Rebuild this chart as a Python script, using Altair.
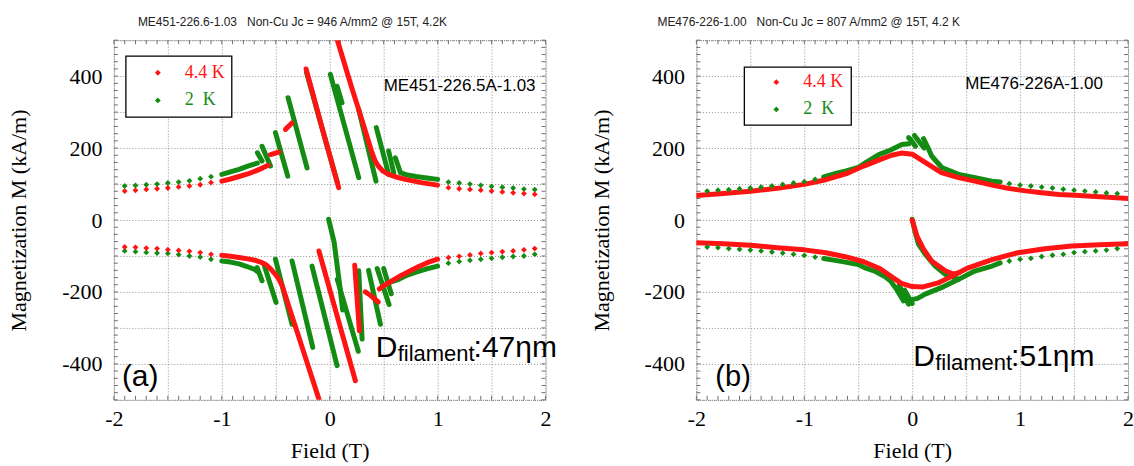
import altair as alt
import numpy as np
import pandas as pd

RED = "#ff1414"
GREEN = "#148c14"
SERIF = "Liberation Serif"
SANS = "Liberation Sans"
W, H = 432, 360

# ---------------- panel (a): ME451-226.5A-1.03, D = 47 nm ----------------
a_dot_B_left = [-1.9, -1.8, -1.7, -1.6, -1.5, -1.4, -1.3, -1.2, -1.1]
a_dot_B_right = [1.1, 1.2, 1.3, 1.4, 1.5, 1.6, 1.7, 1.8, 1.9]
a_red_up_left_M = [80.5, 82.5, 85, 87, 89, 92, 94.5, 98, 104]
a_green_up_left_M = [94.5, 96, 98, 100, 103, 105.5, 109, 115, 120.5]
a_red_up_right_M = [90, 87, 85, 83, 80.5, 78, 75.5, 73.5, 71.5]
a_green_up_right_M = [105.5, 103, 100, 96.5, 93.5, 91, 89, 86, 84.5]
a_red_lo_left_M = [-75, -76, -78, -79.5, -82.5, -84.5, -87, -90.5, -95.5]
a_green_lo_left_M = [-86, -88, -90, -92, -93, -96, -100, -103, -109]
a_red_lo_right_M = [-104.5, -101, -97, -93, -90.5, -88, -86, -83, -79.5]
a_green_lo_right_M = [-120, -115.5, -112, -109, -106.5, -103.5, -101.5, -100, -95.5]

# dense sweeps (field T, magnetization kA/m), one list per unbroken run
a_red_runs = [
    [(1.0, 97), (0.85, 104), (0.70, 113), (0.60, 121), (0.546, 127), (0.49, 137),
     (0.45, 150), (0.42, 165), (0.392, 187), (0.30, 277), (0.20, 372), (0.083, 488), (0.071, 500)],
    [(0.083, 90), (-0.07, 255), (-0.219, 420)],
    [(-0.35, 270), (-0.41, 252)],
    [(-0.472, 189), (-0.549, 182)],
    [(-0.57, 152), (-0.62, 145), (-0.69, 136), (-0.76, 128), (-0.84, 121), (-0.92, 114), (-1.0, 108)],
    [(-1.0, -98), (-0.92, -101), (-0.84, -104), (-0.76, -108), (-0.69, -112), (-0.64, -117),
     (-0.595, -123), (-0.55, -135), (-0.503, -151), (-0.47, -165), (-0.44, -183), (-0.38, -239),
     (-0.30, -313), (-0.20, -405), (-0.10, -498), (-0.098, -500)],
    [(-0.10, -86), (0.07, -268), (0.238, -447)],
    [(0.232, -126), (0.275, -308)],
    [(0.33, -200), (0.38, -210), (0.45, -228)],
    [(0.46, -192), (0.50, -183), (0.56, -172), (0.64, -158), (0.73, -144), (0.82, -130),
     (0.91, -118), (1.0, -109)],
]
a_green_runs = [
    [(1.0, 113), (0.9, 117), (0.8, 121), (0.72, 125), (0.66, 131)],
    [(0.655, 132), (0.608, 173)],
    [(0.593, 132), (0.546, 192)],
    [(0.546, 127), (0.432, 257)],
    [(0.429, 108), (0.269, 307)],
    [(0.269, 118), (0.006, 405)],
    [(0.114, 326), (0.068, 372)],
    [(0.07, 105), (-0.215, 410)],
    [(-0.21, 145), (-0.386, 340)],
    [(-0.389, 122), (-0.503, 243)],
    [(-0.549, 150), (-0.627, 205)],
    [(-0.627, 164), (-0.67, 187)],
    [(-0.67, 158), (-0.76, 150), (-0.84, 141), (-0.92, 134), (-1.0, 127)],
    [(-1.0, -114), (-0.92, -117), (-0.84, -122), (-0.76, -130), (-0.70, -137), (-0.66, -145)],
    [(-0.673, -132), (-0.627, -169)],
    [(-0.605, -128), (-0.497, -229)],
    [(-0.503, -109), (-0.349, -290)],
    [(-0.349, -114), (-0.157, -354)],
    [(-0.164, -128), (0.068, -405)],
    [(-0.01, 2), (0.04, -60), (0.09, -175), (0.12, -250)],
    [(0.07, -165), (0.265, -365)],
    [(0.269, -141), (0.30, -331)],
    [(0.36, -140), (0.47, -290)],
    [(0.44, -135), (0.55, -235)],
    [(0.50, -135), (0.57, -205)],
    [(0.57, -172), (0.64, -165), (0.72, -153), (0.8, -145), (0.9, -136), (1.0, -128)],
]

# ---------------- panel (b): ME476-226A-1.00, D = 51 nm ----------------
b_dot_B_left = [-1.9, -1.8, -1.7, -1.6, -1.5, -1.4, -1.3, -1.2, -1.1, -1.0, -0.9]
b_dot_B_right = [0.9, 1.0, 1.1, 1.2, 1.3, 1.4, 1.5, 1.6, 1.7, 1.8, 1.9]
b_green_up_left_M = [80.5, 83, 84.5, 87, 89, 91.5, 94.5, 99, 103, 106.5, 113]
b_green_up_right_M = [101, 97, 94.5, 91.5, 89, 85.5, 83, 80.5, 78, 75, 73.5]
b_green_lo_left_M = [-75, -77, -79.5, -81.5, -83.5, -86, -89, -92, -95.5, -98.5, -103]
b_green_lo_right_M = [-114, -109, -106.5, -101.5, -98, -95.5, -90.5, -88, -86, -83.5, -79.5]

b_red_runs = [
    [(-2.0, 68), (-1.75, 74), (-1.5, 80), (-1.25, 88), (-1.0, 99), (-0.8, 112), (-0.6, 130),
     (-0.45, 150), (-0.3, 168), (-0.19, 180), (-0.1, 186), (0.0, 183), (0.12, 160), (0.27, 132),
     (0.43, 118), (0.58, 108), (0.74, 97), (0.89, 88), (1.05, 81), (1.2, 76), (1.36, 71),
     (1.51, 69), (1.66, 66), (1.82, 63), (2.0, 60)],
    [(-2.0, -63), (-1.75, -66), (-1.5, -70), (-1.25, -77), (-1.0, -83), (-0.8, -91), (-0.62, -102),
     (-0.45, -116), (-0.3, -135), (-0.19, -158), (-0.1, -176), (0.0, -185), (0.1, -186),
     (0.24, -175), (0.37, -156), (0.52, -133), (0.74, -110), (0.98, -91), (1.23, -80),
     (1.48, -72), (1.73, -69), (2.0, -66)],
    [(0.0, 0), (0.02, -20), (0.043, -44), (0.105, -81), (0.18, -114), (0.306, -141),
     (0.38, -150), (0.43, -147)],
]
b_green_runs = [
    [(0.815, 106), (0.737, 108), (0.583, 118), (0.43, 127), (0.274, 146), (0.18, 178),
     (0.14, 205), (0.105, 226)],
    [(0.11, 200), (0.06, 220), (0.021, 235)],
    [(0.03, 205), (-0.01, 222), (-0.034, 229)],
    [(-0.03, 212), (-0.096, 210), (-0.19, 196), (-0.22, 192), (-0.31, 182), (-0.435, 159),
     (-0.5, 146), (-0.62, 136), (-0.7, 130), (-0.82, 120)],
    [(-0.82, -107), (-0.7, -113), (-0.62, -117), (-0.5, -124), (-0.43, -134), (-0.34, -143),
     (-0.25, -158), (-0.2, -170), (-0.14, -195), (-0.08, -225)],
    [(-0.12, -182), (-0.034, -234)],
    [(-0.07, -195), (0.0, -232)],
    [(-0.01, -222), (0.05, -218), (0.12, -206), (0.27, -188), (0.43, -165), (0.58, -142),
     (0.74, -128), (0.815, -119)],
    [(0.0, 2), (0.028, -35), (0.058, -67), (0.12, -95), (0.213, -128), (0.306, -151),
     (0.37, -158), (0.43, -165)],
]

# axis tick values
x_grid = [-2, -1.5, -1, -0.5, 0, 0.5, 1, 1.5, 2]
y_grid = [-500, -400, -300, -200, -100, 0, 100, 200, 300, 400, 500]
x_minor = [round(v, 1) for v in np.arange(-2.0, 2.001, 0.1)]
y_minor = list(range(-500, 501, 20))

ONE = pd.DataFrame({"k": [0]})
NBSP3 = "\u00a0\u00a0\u00a0"


def run_frame(runs):
    rows = []
    for k, run in enumerate(runs):
        for i, (b, m) in enumerate(run):
            rows.append({"B": b, "M": m, "run": k, "i": i})
    return pd.DataFrame(rows)


def dot_frame(bs, ms):
    return pd.DataFrame({"B": bs, "M": ms})


num_expr = "(datum.value < 0 ? '-' + abs(datum.value) : '' + datum.value)"
x_axis = alt.Axis(values=x_grid, labelExpr=f"datum.value % 1 == 0 ? {num_expr} : ''",
                  title="Field (T)", domain=False, ticks=False, grid=True,
                  gridColor="#8f8f8f", gridDash=[1, 2], gridWidth=1,
                  labelFont=SERIF, labelFontSize=22, labelColor="black", labelPadding=9,
                  labelFlush=False, labelOverlap=False,
                  titleFont=SERIF, titleFontSize=22, titleFontWeight="normal",
                  titleColor="black", titlePadding=11)
y_axis = alt.Axis(values=y_grid, labelExpr=f"datum.value % 200 == 0 ? {num_expr} : ''",
                  title="Magnetization M (kA/m)", domain=False, ticks=False, grid=True,
                  gridColor="#8f8f8f", gridDash=[1, 2], gridWidth=1,
                  labelFont=SERIF, labelFontSize=22, labelColor="black", labelPadding=12,
                  labelFlush=False, labelOverlap=False,
                  titleFont=SERIF, titleFontSize=22, titleFontWeight="normal",
                  titleColor="black", titlePadding=31)
XS = alt.Scale(domain=[-2, 2], nice=False)
YS = alt.Scale(domain=[-500, 500], nice=False)


def X(field="B"):
    return alt.X(f"{field}:Q", scale=XS, axis=x_axis)


def Y(field="M"):
    return alt.Y(f"{field}:Q", scale=YS, axis=y_axis)


def frame_ticks():
    xt = pd.DataFrame({"B": x_minor})
    yt = pd.DataFrame({"M": y_minor})
    rule = dict(color="#6e6e6e", strokeWidth=1)
    return [
        alt.Chart(xt).mark_rule(**rule).encode(x=X(), y=alt.value(0), y2=alt.value(4)),
        alt.Chart(xt).mark_rule(**rule).encode(x=X(), y=alt.value(H), y2=alt.value(H - 4)),
        alt.Chart(yt).mark_rule(**rule).encode(y=Y(), x=alt.value(0), x2=alt.value(4)),
        alt.Chart(yt).mark_rule(**rule).encode(y=Y(), x=alt.value(W), x2=alt.value(W - 4)),
    ]


def runs_layer(runs, color):
    return alt.Chart(run_frame(runs)).mark_line(
        color=color, strokeWidth=5, strokeCap="round", strokeJoin="round", clip=True
    ).encode(x=X(), y=Y(), detail="run:N", order="i:Q")


def dots_layer(df, color):
    return alt.Chart(df).mark_point(
        shape="diamond", filled=True, size=34, color=color, opacity=1
    ).encode(x=X(), y=Y())


def text_at(txt, x, y, size, font=SANS, color="black", baseline="alphabetic"):
    return alt.Chart(ONE).mark_text(
        text=txt, font=font, fontSize=size, color=color, align="left", baseline=baseline
    ).encode(x=alt.value(x), y=alt.value(y))


def legend_layers(x0, y0, x1, y1, dot_x, text_x, y_r, y_g):
    box = alt.Chart(ONE).mark_rect(fill="white", stroke="black", strokeWidth=1.3).encode(
        x=alt.value(x0), x2=alt.value(x1), y=alt.value(y0), y2=alt.value(y1))
    out = [box]
    for yy, col, lab in [(y_r, RED, "4.4 K"), (y_g, GREEN, "2\u00a0\u00a0K")]:
        out.append(alt.Chart(ONE).mark_point(shape="diamond", filled=True, size=34,
                                             color=col, opacity=1)
                   .encode(x=alt.value(dot_x), y=alt.value(yy)))
        out.append(text_at(lab, text_x, yy, 18, font=SERIF, color=col, baseline="middle"))
    return out


def d_label(x, y, value):
    return [
        text_at("D", x, y, 30),
        text_at("filament", x + 22, y + 4, 22),
        text_at(f":{value}\u03b7m", x + 98, y, 30),
    ]


def head(text, dx):
    return alt.TitleParams(text, anchor="start", frame="group", dx=dx, offset=-9,
                           baseline="alphabetic", font=SANS, fontSize=12,
                           fontWeight="normal", color="#222222")


# ---------- panel (a) ----------
a_layers = frame_ticks() + [
    runs_layer(a_green_runs, GREEN),
    runs_layer(a_red_runs, RED),
    dots_layer(dot_frame(a_dot_B_left, a_green_up_left_M), GREEN),
    dots_layer(dot_frame(a_dot_B_right, a_green_up_right_M), GREEN),
    dots_layer(dot_frame(a_dot_B_left, a_green_lo_left_M), GREEN),
    dots_layer(dot_frame(a_dot_B_right, a_green_lo_right_M), GREEN),
    dots_layer(dot_frame(a_dot_B_left, a_red_up_left_M), RED),
    dots_layer(dot_frame(a_dot_B_right, a_red_up_right_M), RED),
    dots_layer(dot_frame(a_dot_B_left, a_red_lo_left_M), RED),
    dots_layer(dot_frame(a_dot_B_right, a_red_lo_right_M), RED),
] + legend_layers(12, 16, 118, 77, 44, 71, 32.6, 60.3) + [
    text_at("ME451-226.5A-1.03", 270, 51, 17),
    text_at("(a)", 8, 346, 30),
] + d_label(262, 317, 47)

panel_a = alt.layer(*a_layers).properties(
    width=W, height=H,
    title=head(f"ME451-226.6-1.03{NBSP3}Non-Cu Jc = 946 A/mm2 @ 15T, 4.2K", 24))

# ---------- panel (b) ----------
b_layers = frame_ticks() + [
    runs_layer(b_green_runs, GREEN),
    runs_layer(b_red_runs, RED),
    dots_layer(dot_frame(b_dot_B_left, b_green_up_left_M), GREEN),
    dots_layer(dot_frame(b_dot_B_right, b_green_up_right_M), GREEN),
    dots_layer(dot_frame(b_dot_B_left, b_green_lo_left_M), GREEN),
    dots_layer(dot_frame(b_dot_B_right, b_green_lo_right_M), GREEN),
] + legend_layers(48, 27, 155, 85, 80, 107, 42, 69.3) + [
    text_at("ME476-226A-1.00", 269, 49, 17),
    text_at("(b)", 19, 346, 29),
] + d_label(217, 326, 51)

panel_b = alt.layer(*b_layers).properties(
    width=W, height=H,
    title=head(f"ME476-226-1.00{NBSP3}Non-Cu Jc = 807 A/mm2 @ 15T, 4.2 K", -39))

chart = alt.hconcat(panel_a, panel_b, spacing=32).properties(
    padding={"left": 7, "top": 15, "right": 0, "bottom": 0},
    background="white",
).configure_view(stroke="#7a7a7a", strokeDash=[1, 1], strokeWidth=1)

chart.save("out.html", embed_options={"renderer": "svg", "actions": False})
